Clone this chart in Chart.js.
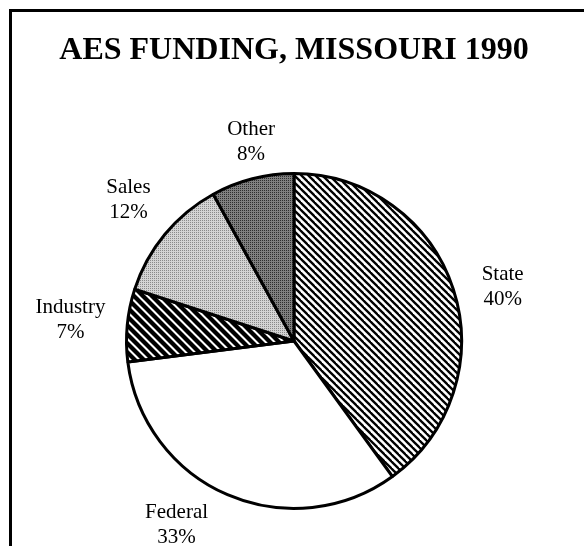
<!DOCTYPE html>
<html>
<head>
<meta charset="utf-8">
<script src="https://cdn.jsdelivr.net/npm/chart.js@4.4.1/dist/chart.umd.min.js"></script>
<style>
  html, body { margin: 0; padding: 0; background: #fff; }
  #wrap { width: 586px; height: 546px; position: relative; }
</style>
</head>
<body>
<div id="wrap"><canvas id="c" width="586" height="546"></canvas></div>
<script>
// ---- data ----
const title = 'AES FUNDING, MISSOURI 1990';
const categories = ['State', 'Federal', 'Industry', 'Sales', 'Other'];
const shares = [40, 33, 7, 12, 8];
const pctLabels = ['40%', '33%', '7%', '12%', '8%'];

// ---- label layout (angle offset from slice middle in degrees, distance in radii) ----
const labelAngleOffset = [3.6, 9.1, 0, 0.9, 2.2];
const labelDistance = [1.286, 1.305, 1.341, 1.30, 1.213];

function hatch(size, lw, bg) {
  const c = document.createElement('canvas');
  c.width = size; c.height = size;
  const x = c.getContext('2d');
  x.fillStyle = bg; x.fillRect(0, 0, size, size);
  x.strokeStyle = '#000'; x.lineWidth = lw; x.lineCap = 'square';
  for (let k = -1; k <= 1; k++) {
    x.beginPath();
    x.moveTo(-2, -2 + k * size);
    x.lineTo(size + 2, size + 2 + k * size);
    x.stroke();
  }
  return x.createPattern(c, 'repeat');
}
function stipple(bg, dot) {
  const c = document.createElement('canvas');
  c.width = 4; c.height = 4;
  const x = c.getContext('2d');
  x.fillStyle = bg; x.fillRect(0, 0, 4, 4);
  x.fillStyle = dot;
  x.fillRect(0, 0, 1, 1); x.fillRect(2, 2, 1, 1);
  x.fillRect(2, 0, 1, 1); x.fillRect(0, 2, 1, 1);
  return x.createPattern(c, 'repeat');
}

const fills = [
  hatch(7, 2.3, '#ffffff'),
  '#ffffff',
  hatch(9, 4.3, '#ffffff'),
  stipple('#d4d4d4', '#8a8a8a'),
  stipple('#808080', '#2e2e2e')
];

const decor = {
  id: 'decor',
  beforeDraw(chart) {
    const ctx = chart.ctx;
    ctx.save();
    ctx.fillStyle = '#fff';
    ctx.fillRect(0, 0, chart.width, chart.height);
    ctx.strokeStyle = '#000';
    ctx.lineWidth = 3;
    ctx.beginPath();
    ctx.moveTo(10.5, chart.height);
    ctx.lineTo(10.5, 10.5);
    ctx.lineTo(chart.width - 2, 10.5);
    ctx.stroke();
    ctx.fillStyle = '#000';
    ctx.font = 'bold 32px "Liberation Serif", "Times New Roman", serif';
    ctx.textAlign = 'center';
    ctx.textBaseline = 'alphabetic';
    ctx.fillText(title, 294, 59);
    ctx.restore();
  },
  afterDatasetsDraw(chart) {
    const ctx = chart.ctx;
    const meta = chart.getDatasetMeta(0);
    ctx.save();
    ctx.fillStyle = '#000';
    ctx.font = '21px "Liberation Serif", "Times New Roman", serif';
    ctx.textAlign = 'center';
    ctx.textBaseline = 'middle';
    meta.data.forEach((arc, i) => {
      const p = arc.getProps(['x', 'y', 'startAngle', 'endAngle', 'outerRadius'], true);
      const mid = (p.startAngle + p.endAngle) / 2 + labelAngleOffset[i] * Math.PI / 180;
      const d = p.outerRadius * labelDistance[i];
      const lx = p.x + Math.cos(mid) * d;
      const ly = p.y + Math.sin(mid) * d;
      ctx.fillText(categories[i], lx, ly - 12.5);
      ctx.fillText(pctLabels[i], lx, ly + 12.5);
    });
    ctx.restore();
  }
};

new Chart(document.getElementById('c'), {
  type: 'pie',
  data: {
    labels: categories,
    datasets: [{
      data: shares,
      backgroundColor: fills,
      borderColor: '#000',
      borderWidth: 3,
      borderAlign: 'center'
    }]
  },
  options: {
    responsive: false,
    animation: false,
    events: [],
    layout: { padding: { left: 12, right: 10, top: 172, bottom: 36 } },
    plugins: {
      legend: { display: false },
      title: { display: false },
      tooltip: { enabled: false }
    }
  },
  plugins: [decor]
});
</script>
</body>
</html>
